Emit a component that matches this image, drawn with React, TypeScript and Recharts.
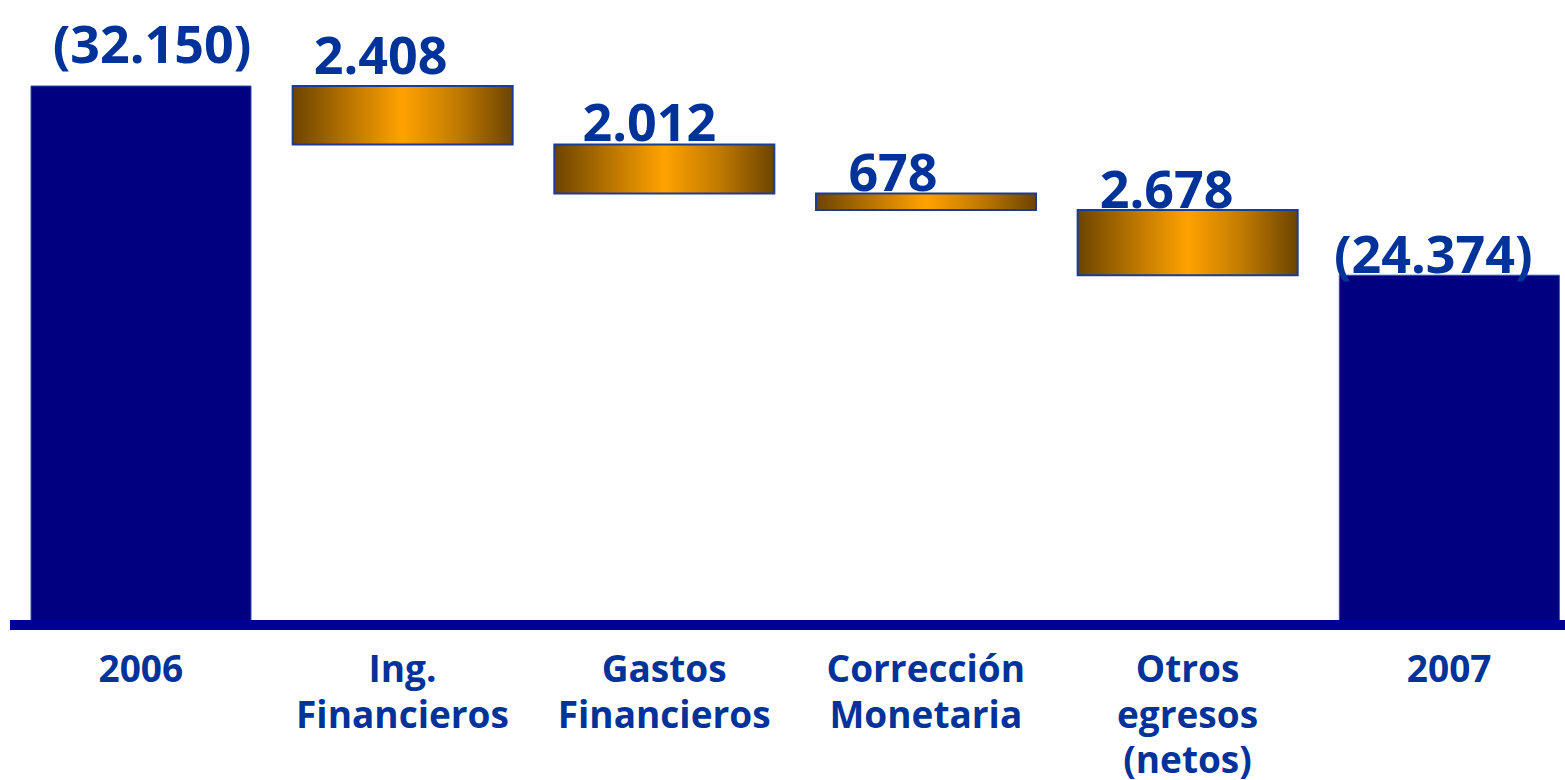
import { BarChart, Bar, XAxis, YAxis, Cell, LabelList } from 'recharts'

const categories = [
  '2006',
  'Ing.\nFinancieros',
  'Gastos\nFinancieros',
  'Corrección\nMonetaria',
  'Otros\negresos\n(netos)',
  '2007',
]
const openingBalance = 32150
const movements = [2408, 2012, 678, 2678]
const closingBalance = 24374

// nudges for the value labels, per bar (px)
const labelDx = [11, -22, -15, -33, -21, -16]
const labelDy = [-23, -12, -4, -3, -2, -2]

const BLUE_TEXT = '#003399'
const NAVY = '#000080'
const FONT = '"Open Sans", sans-serif'

type Row = { name: string; range: [number, number]; value: number; total: boolean }

const rows: Row[] = []
let level = openingBalance
rows.push({ name: categories[0], range: [0, openingBalance], value: openingBalance, total: true })
movements.forEach((m, i) => {
  rows.push({ name: categories[i + 1], range: [level - m, level], value: m, total: false })
  level -= m
})
rows.push({ name: categories[5], range: [0, closingBalance], value: closingBalance, total: true })

const fmt = (n: number) => String(n).replace(/\B(?=(\d{3})+(?!\d))/g, '.')

function ValueLabel(props: any) {
  const { x, y, width, index } = props
  const row = rows[index]
  if (!row) return null
  const text = row.total ? `(${fmt(row.value)})` : fmt(row.value)
  return (
    <text
      x={x + width / 2 + labelDx[index]}
      y={y + labelDy[index]}
      textAnchor="middle"
      fill={BLUE_TEXT}
      fontFamily={FONT}
      fontWeight={700}
      fontSize={52}
    >
      {text}
    </text>
  )
}

function CategoryTick(props: any) {
  const { x, y, payload } = props
  const lines = String(payload.value).split('\n')
  return (
    <text
      x={x}
      y={y + 57}
      textAnchor="middle"
      fill={BLUE_TEXT}
      fontFamily={FONT}
      fontWeight={700}
      fontSize={37}
    >
      {lines.map((line, i) => (
        <tspan key={i} x={x} dy={i === 0 ? 0 : 45.5}>
          {line}
        </tspan>
      ))}
    </text>
  )
}

export default function App() {
  return (
    <div style={{ width: 1565, height: 780, overflow: 'hidden', background: '#fff' }}>
      <style>{'body{margin:0}'}</style>
      <BarChart
        width={1590}
        height={780}
        data={rows}
        margin={{ top: 41, right: 10, bottom: 0, left: 10 }}
      >
        <defs>
          <linearGradient id="gold" x1="0" y1="0" x2="1" y2="0">
            <stop offset="0%" stopColor="#6c4400" />
            <stop offset="25%" stopColor="#b87400" />
            <stop offset="50%" stopColor="#ffa200" />
            <stop offset="75%" stopColor="#c07a00" />
            <stop offset="100%" stopColor="#6c4400" />
          </linearGradient>
        </defs>
        <YAxis hide domain={[10000, 34000]} allowDataOverflow />
        <Bar dataKey="range" barSize={220} isAnimationActive={false} stroke="#1f45a0" strokeWidth={1.5}>
          {rows.map((r, i) => (
            <Cell key={i} fill={r.total ? NAVY : 'url(#gold)'} stroke={r.total ? '#2a4fa8' : '#1a3c96'} strokeWidth={r.total ? 1 : 2} />
          ))}
          <LabelList dataKey="value" content={<ValueLabel />} />
        </Bar>
        <XAxis
          dataKey="name"
          height={155}
          interval={0}
          tickLine={false}
          tickSize={0}
          tickMargin={0}
          axisLine={{ stroke: '#000099', strokeWidth: 10 }}
          tick={<CategoryTick />}
        />
      </BarChart>
    </div>
  )
}
